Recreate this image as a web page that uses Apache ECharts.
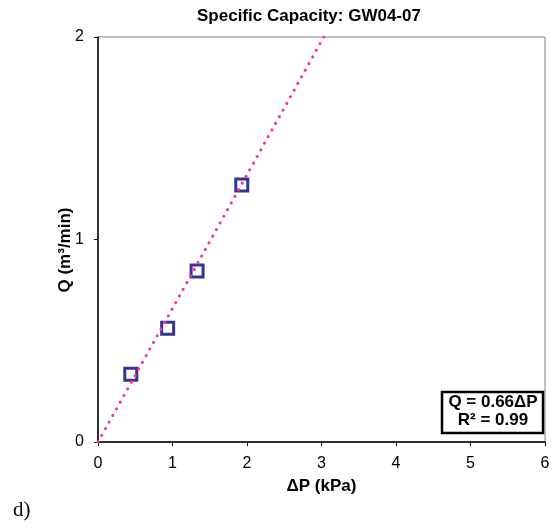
<!DOCTYPE html>
<html>
<head>
<meta charset="utf-8">
<script src="https://cdn.jsdelivr.net/npm/echarts@6/dist/echarts.min.js"></script>
<style>
  html, body { margin: 0; padding: 0; background: #fff; }
  #chart { width: 556px; height: 529px; }
</style>
</head>
<body>
<div id="chart"></div>
<script>
const dpValues = [0.44, 0.935, 1.33, 1.93]
const qValues = [0.335, 0.562, 0.845, 1.269]
const trendX = [0, 3.03]
const trendY = [0, 2]
const xTicks = [0, 1, 2, 3, 4, 5, 6]
const yTicks = [0, 1, 2]

const font = 'Arial, "Liberation Sans", sans-serif'
const chart = echarts.init(document.getElementById('chart'))

chart.setOption({
  backgroundColor: '#fff',
  animation: false,
  title: {
    text: 'Specific Capacity: GW04-07',
    left: 192,
    top: 3,
    textStyle: { fontFamily: font, fontSize: 17, fontWeight: 'bold', color: '#000' },
  },
  grid: {
    left: 98, right: 11, top: 37, bottom: 87,
    show: true, borderColor: '#808080', borderWidth: 1,
  },
  xAxis: {
    type: 'value',
    min: xTicks[0],
    max: xTicks[xTicks.length - 1],
    interval: 1,
    name: 'ΔP (kPa)',
    nameLocation: 'middle',
    nameGap: 36,
    nameTextStyle: { fontFamily: font, fontSize: 17, fontWeight: 'bold', color: '#000' },
    axisLine: { lineStyle: { color: '#000', width: 1.5 } },
    axisTick: { length: 4, lineStyle: { color: '#000' } },
    axisLabel: { fontFamily: font, fontSize: 16, color: '#000', margin: 14 },
    splitLine: { show: false },
  },
  yAxis: {
    type: 'value',
    min: yTicks[0],
    max: yTicks[yTicks.length - 1],
    interval: 1,
    axisLine: { show: true, lineStyle: { color: '#000', width: 1.5 } },
    axisTick: { show: true, length: 4, lineStyle: { color: '#000' } },
    axisLabel: { fontFamily: font, fontSize: 16, color: '#000', margin: 14 },
    splitLine: { show: false },
  },
  graphic: [
    {
      type: 'text', x: 65, y: 250, rotation: Math.PI / 2,
      style: {
        text: 'Q (m³/min)', align: 'center', verticalAlign: 'middle',
        font: 'bold 17px ' + font, fill: '#000',
      },
    },
    {
      type: 'text', left: 13, top: 500,
      style: { text: 'd)', font: '21px "Liberation Serif", "Times New Roman", serif', fill: '#000' },
    },
    {
      type: 'rect', x: 442, y: 392, z: 10,
      shape: { width: 101, height: 41 },
      style: { fill: '#fff', stroke: '#000', lineWidth: 2.5 },
    },
    {
      type: 'text', x: 493, y: 402, z: 11,
      style: { text: 'Q = 0.66ΔP', align: 'center', verticalAlign: 'middle', font: 'bold 17px ' + font, fill: '#000' },
    },
    {
      type: 'text', x: 493, y: 420, z: 11,
      style: { text: 'R² = 0.99', align: 'center', verticalAlign: 'middle', font: 'bold 17px ' + font, fill: '#000' },
    },
  ],
  series: [
    {
      type: 'scatter',
      data: dpValues.map((x, i) => [x, qValues[i]]),
      symbol: 'rect',
      symbolSize: 12,
      itemStyle: { color: 'transparent', borderColor: '#000080', borderWidth: 3 },
      z: 2,
    },
    {
      type: 'line',
      data: trendX.map((x, i) => [x, trendY[i]]),
      showSymbol: false,
      lineStyle: { color: '#FF3399', width: 3, type: [0.1, 7.5], cap: 'round' },
      z: 3,
    },
  ],
})
</script>
</body>
</html>
